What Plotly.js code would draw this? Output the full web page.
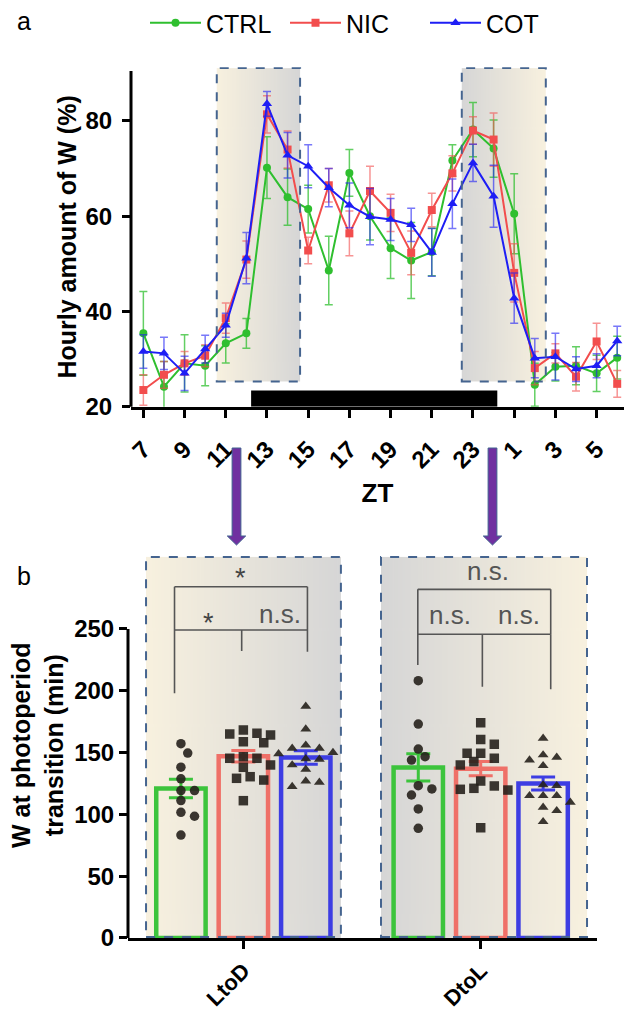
<!DOCTYPE html>
<html>
<head>
<meta charset="utf-8">
<script src="https://cdn.plot.ly/plotly-3.0.1.min.js"></script>
<style>
html,body{margin:0;padding:0;background:#fff;}
#chart{width:624px;height:1010px;}
</style>
</head>
<body>
<div id="chart"></div>
<script>
// ---------------- DATA: panel a (hourly amount of W, %) ----------------
const ztHours = [7,8,9,10,11,12,13,14,15,16,17,18,19,20,21,22,23,0,1,2,3,4,5,6];
const ctrlMean = [35.4,24.2,29.1,28.6,33.3,35.4,70.2,64.0,61.5,48.6,69.1,60.0,53.3,50.7,52.5,71.7,78.2,74.2,60.5,24.6,28.4,28.6,27.0,30.3];
const ctrlSem  = [8.8,5.3,6.0,4.2,4.1,3.1,6.5,5.9,5.0,7.2,4.9,5.0,6.4,8.0,5.0,3.3,5.7,6.0,8.4,4.5,3.0,4.0,3.8,4.5];
const nicMean  = [23.5,26.7,29.1,30.7,38.6,50.9,81.4,74.0,52.8,66.5,56.4,65.3,60.7,52.3,61.3,69.0,78.0,76.1,48.1,28.1,31.2,26.3,33.7,24.8];
const nicSem   = [3.2,2.8,2.5,2.3,3.2,3.9,3.9,3.9,2.8,3.5,4.7,5.2,3.9,4.6,3.5,3.7,2.9,5.6,6.1,3.5,2.0,3.0,3.8,2.8];
const cotMean  = [31.6,31.2,27.0,32.1,37.1,51.2,83.6,72.8,70.5,66.0,62.3,59.9,59.3,58.2,52.4,62.6,71.2,64.2,42.8,30.2,30.5,27.9,28.6,33.8];
const cotSem   = [3.5,3.4,3.6,2.9,2.5,5.4,2.6,4.8,4.5,4.0,4.7,5.9,4.4,3.5,5.0,5.2,3.9,6.5,5.3,4.1,4.9,2.6,2.5,3.1];
const seriesNames = ['CTRL','NIC','COT'];
const yTicksA = [20,40,60,80];

// ---------------- DATA: panel b (W at photoperiod transition, min) ----------------
const transitions = ['LtoD','DtoL'];
const barCtrl = [121,138];  const barCtrlSem = [7.5,11.0];
const barNic  = [147,137];  const barNicSem  = [4.7,5.7];
const barCot  = [146,125];  const barCotSem  = [5.4,5.3];
const ltodCtrl = [157.2,149.6,138.2,128.8,119.3,119.3,111.2,101.7,98.5,83.3];
const ltodNic  = [168.3,165.0,165.6,164.2,158.8,158.0,145.4,146.7,145.4,138.1,140.0,129.2,127.8,130.5,111.1];
const ltodCot  = [187.5,169.0,156.0,153.5,153.5,150.0,149.0,145.0,144.6,140.0,136.5,127.0,126.0,122.5];
const dtolCtrl = [208.2,173.1,152.9,146.7,144.0,123.2,120.6,115.7,104.4,88.7];
const dtolNic  = [174.2,160.7,156.7,149.4,149.4,145.4,142.7,140.0,127.0,123.0,119.7,120.3,121.1,89.2];
const dtolCot  = [161.6,148.1,144.0,146.2,139.4,123.2,123.8,115.1,115.1,115.1,109.8,105.7,103.0,94.1];
const yTicksB = [0,50,100,150,200,250];

// ---------------- styling / geometry ----------------
const W = 624, H = 1010;
const font = 'Liberation Sans, Arial, Helvetica, sans-serif';
const cLine = ['#2fbf2f','#f24d4d','#1e1ef5'];
const cErr  = ['rgba(47,191,47,0.75)','rgba(242,77,77,0.6)','rgba(30,30,245,0.6)'];
const cBar  = ['#3cc43c','#ef7068','#3d3de3'];
const symbols = ['circle','square','triangle-up'];
const ptColor = 'rgba(38,33,28,0.9)';
const boxBorder = '#45648f';

const px = x => x / W;
const py = y => 1 - y / H;

const aX0 = 131, aYtop = 91.3;
const xRangeA = [-0.6, 23.33];
const yRangeA = [20, aYtop];
const yRangeB = [0, 312];
const xRangeB = [-0.486, 1.49];
const pxPerUnitB = 237.4, pxPerValB = 1.236;

const xIdx = ztHours.map((_, i) => i);
const tickIdx = xIdx.filter(i => i % 2 === 0);
const tickTxt = tickIdx.map(i => String(ztHours[i]));

function gradientURL(c0, c1) {
  const cv = document.createElement('canvas');
  cv.width = 256; cv.height = 8;
  const ctx = cv.getContext('2d');
  const g = ctx.createLinearGradient(0, 0, 256, 0);
  g.addColorStop(0, c0); g.addColorStop(1, c1);
  ctx.fillStyle = g; ctx.fillRect(0, 0, 256, 8);
  return cv.toDataURL();
}
const beige = '#f8f1df', grey = '#d6d6d6';
const gLD = gradientURL(beige, grey);
const gDL = gradientURL(grey, beige);

const traces = [];
const meansA = [ctrlMean, nicMean, cotMean];
const semsA = [ctrlSem, nicSem, cotSem];
for (let s = 0; s < 3; s++) {
  traces.push({
    type: 'scatter', mode: 'lines+markers', name: seriesNames[s],
    x: xIdx, y: meansA[s], xaxis: 'x', yaxis: 'y',
    line: {color: cLine[s], width: 2},
    marker: {symbol: symbols[s], size: s === 2 ? 9 : 8, color: cLine[s]},
    error_y: {type: 'data', array: semsA[s], visible: true, color: cErr[s], thickness: 1.5, width: 4},
    cliponaxis: false
  });
}

const barOffsets = [-0.263, 0, 0.263];
const barMeans = [barCtrl, barNic, barCot];
const barSems = [barCtrlSem, barNicSem, barCotSem];
const catIdx = transitions.map((_, i) => i);
for (let s = 0; s < 3; s++) {
  traces.push({
    type: 'bar', x: catIdx.map(c => c + barOffsets[s]), y: barMeans[s],
    xaxis: 'x2', yaxis: 'y2', width: 0.208, showlegend: false, hoverinfo: 'skip',
    marker: {color: 'rgba(0,0,0,0)', line: {color: cBar[s], width: 4.5}},
    error_y: {type: 'data', array: barSems[s], visible: true, color: cBar[s], thickness: 3, width: 12}
  });
}

function swarm(values, center) {
  const step = 6.8, minD = 9.6;
  const placed = [], xs = new Array(values.length);
  const order = values.map((v, i) => i).sort((a, b) => values[b] - values[a]);
  for (const i of order) {
    const yy = values[i] * pxPerValB;
    let ox = 0;
    for (let k = 0; k < 40; k++) {
      const m = k === 0 ? 0 : (k % 2 ? Math.ceil(k / 2) : -k / 2);
      const cand = m * step;
      if (placed.every(q => Math.hypot(q.x - cand, q.y - yy) >= minD)) { ox = cand; break; }
    }
    placed.push({x: ox, y: yy});
    xs[i] = center + ox / pxPerUnitB;
  }
  return xs;
}
const pts = [[ltodCtrl, ltodNic, ltodCot], [dtolCtrl, dtolNic, dtolCot]];
for (let c = 0; c < 2; c++) {
  for (let s = 0; s < 3; s++) {
    const vals = pts[c][s];
    traces.push({
      type: 'scatter', mode: 'markers', x: swarm(vals, c + barOffsets[s]), y: vals,
      xaxis: 'x2', yaxis: 'y2', showlegend: false, hoverinfo: 'skip',
      marker: {symbol: symbols[s], size: 9.5, color: ptColor}
    });
  }
}

// ---------------- decorations ----------------
const boxesA = [[3.563, 7.607, gLD], [15.456, 19.534, gDL]];
const boxYA = [25.3, 91.1];
const boxesB = [[-0.41, 0.411, gLD], [0.58, 1.448, gDL]];
const boxYB = [0, 308.3];

const images = [];
const shapes = [];
boxesA.forEach(b => {
  images.push({source: b[2], xref: 'x', yref: 'y', x: b[0], y: boxYA[1], sizex: b[1] - b[0], sizey: boxYA[1] - boxYA[0],
    xanchor: 'left', yanchor: 'top', sizing: 'stretch', layer: 'below'});
  shapes.push({type: 'rect', xref: 'x', yref: 'y', x0: b[0], x1: b[1], y0: boxYA[0], y1: boxYA[1],
    line: {color: boxBorder, width: 2, dash: 'dash'}, fillcolor: 'rgba(0,0,0,0)'});
});
boxesB.forEach(b => {
  images.push({source: b[2], xref: 'x2', yref: 'y2', x: b[0], y: boxYB[1], sizex: b[1] - b[0], sizey: boxYB[1] - boxYB[0],
    xanchor: 'left', yanchor: 'top', sizing: 'stretch', layer: 'below'});
  shapes.push({type: 'rect', xref: 'x2', yref: 'y2', x0: b[0], x1: b[1], y0: boxYB[0] + 0.8, y1: boxYB[1],
    line: {color: boxBorder, width: 2, dash: 'dash'}, fillcolor: 'rgba(0,0,0,0)'});
});
shapes.push({type: 'rect', xref: 'x', yref: 'y', x0: 5.23, x1: 17.18, y0: 20, y1: 23.4, fillcolor: '#000', line: {width: 0}});
shapes.push({type: 'line', xref: 'x domain', yref: 'y domain', x0: 0, x1: 0, y0: 0, y1: (90.5 - 20) / (aYtop - 20), line: {color: '#000', width: 3}});
shapes.push({type: 'line', xref: 'x2 domain', yref: 'y2 domain', x0: 0, x1: 0, y0: 0, y1: 250 / yRangeB[1], line: {color: '#000', width: 3}});

const br = {color: '#555', width: 1.6};
function seg(x0, y0, x1, y1) { shapes.push({type: 'line', xref: 'x2', yref: 'y2', x0, y0, x1, y1, line: br}); }
seg(-0.29, 284.2, 0.27, 284.2); seg(0.27, 284.2, 0.27, 249.2);
seg(-0.29, 249.2, 0.27, 249.2); seg(-0.29, 284.2, -0.29, 198);
seg(-0.007, 249.2, -0.007, 232.2); seg(0.27, 249.2, 0.27, 231.6);
seg(0.735, 282.1, 1.295, 282.1); seg(1.295, 282.1, 1.295, 245.7);
seg(0.735, 245.7, 1.295, 245.7); seg(0.735, 282.1, 0.735, 220.9);
seg(1.007, 245.7, 1.007, 203.3); seg(1.295, 245.7, 1.295, 201.2);

function arrow(cx) {
  const y0 = 448, yh = 536, yt = 545, hw = 4.4, hh = 9.2;
  const p = `M ${px(cx - hw)} ${py(y0)} L ${px(cx + hw)} ${py(y0)} L ${px(cx + hw)} ${py(yh)} L ${px(cx + hh)} ${py(yh)} L ${px(cx)} ${py(yt)} L ${px(cx - hh)} ${py(yh)} L ${px(cx - hw)} ${py(yh)} Z`;
  shapes.push({type: 'path', xref: 'paper', yref: 'paper', path: p, fillcolor: '#7030a0', line: {color: '#41628f', width: 1}});
}
arrow(236.5); arrow(492.5);

const annFont = {family: font, size: 27, color: '#444'};
const nsFont = {family: font, size: 26, color: '#555'};
const annotations = [
  {text: '*', x: -0.014, y: 291, xref: 'x2', yref: 'y2', showarrow: false, font: annFont},
  {text: '*', x: -0.147, y: 255, xref: 'x2', yref: 'y2', showarrow: false, font: annFont},
  {text: 'n.s.', x: 0.155, y: 262, xref: 'x2', yref: 'y2', showarrow: false, font: nsFont},
  {text: 'n.s.', x: 1.032, y: 297, xref: 'x2', yref: 'y2', showarrow: false, font: nsFont},
  {text: 'n.s.', x: 0.871, y: 261, xref: 'x2', yref: 'y2', showarrow: false, font: nsFont},
  {text: 'n.s.', x: 1.161, y: 261, xref: 'x2', yref: 'y2', showarrow: false, font: nsFont},
  {text: 'a', x: px(24), y: py(21), xref: 'paper', yref: 'paper', xanchor: 'center', yanchor: 'middle', showarrow: false, font: {family: font, size: 25, color: '#000'}},
  {text: 'b', x: px(24), y: py(576), xref: 'paper', yref: 'paper', xanchor: 'center', yanchor: 'middle', showarrow: false, font: {family: font, size: 25, color: '#000'}}
];

const tickFont = {family: font, size: 24, color: '#000', weight: 'bold'};
const tickFontB = {family: font, size: 22, color: '#000', weight: 'bold'};
const layout = {
  width: W, height: H, autosize: false,
  margin: {l: 0, r: 0, t: 0, b: 0, pad: 0},
  paper_bgcolor: '#fff', plot_bgcolor: 'rgba(0,0,0,0)',
  font: {family: font, color: '#000'},
  showlegend: true,
  legend: {orientation: 'h', x: px(145), xanchor: 'left', y: 1, yanchor: 'top',
    font: {family: font, size: 25, color: '#000'}, itemwidth: 51, entrywidth: 74, entrywidthmode: 'pixels',
    bgcolor: 'rgba(0,0,0,0)'},
  xaxis: {domain: [px(aX0), 1], range: xRangeA, anchor: 'y', showgrid: false, zeroline: false,
    showline: true, linecolor: '#000', linewidth: 3, ticks: 'outside', ticklen: 8, tickwidth: 3, tickcolor: '#000',
    tickmode: 'array', tickvals: tickIdx, ticktext: tickTxt, tickangle: -45, tickfont: tickFont, ticklabelstandoff: 8,
    title: {text: 'ZT', font: {family: font, size: 26, weight: 'bold'}, standoff: 12}},
  yaxis: {domain: [py(406.7), py(406.7 - (aYtop - 20) * 4.762)], range: yRangeA, anchor: 'x', showgrid: false, zeroline: false,
    showline: false, ticks: 'outside', ticklen: 8, tickwidth: 3, tickcolor: '#000',
    tickmode: 'array', tickvals: yTicksA, tickfont: tickFont, ticklabelstandoff: 5,
    title: {text: 'Hourly amount of W (%)', font: {family: font, size: 25, weight: 'bold'}, standoff: 1}},
  xaxis2: {domain: [px(128), px(597)], range: xRangeB, anchor: 'y2', showgrid: false, zeroline: false,
    showline: true, linecolor: '#000', linewidth: 3, ticks: 'outside', ticklen: 8, tickwidth: 3, tickcolor: '#000',
    tickmode: 'array', tickvals: catIdx, ticktext: transitions, tickangle: -45, tickfont: tickFontB},
  yaxis2: {domain: [py(938), py(938 - yRangeB[1] * pxPerValB)], range: yRangeB, anchor: 'x2', showgrid: false, zeroline: false,
    showline: false, ticks: 'outside', ticklen: 8, tickwidth: 3, tickcolor: '#000',
    tickmode: 'array', tickvals: yTicksB, tickfont: tickFont,
    title: {text: 'W at photoperiod<br>transition (min)', font: {family: font, size: 25, weight: 'bold'}, standoff: 3}},
  barmode: 'overlay',
  images, shapes, annotations
};

Plotly.newPlot('chart', traces, layout, {staticPlot: true, displayModeBar: false});
</script>
</body>
</html>
